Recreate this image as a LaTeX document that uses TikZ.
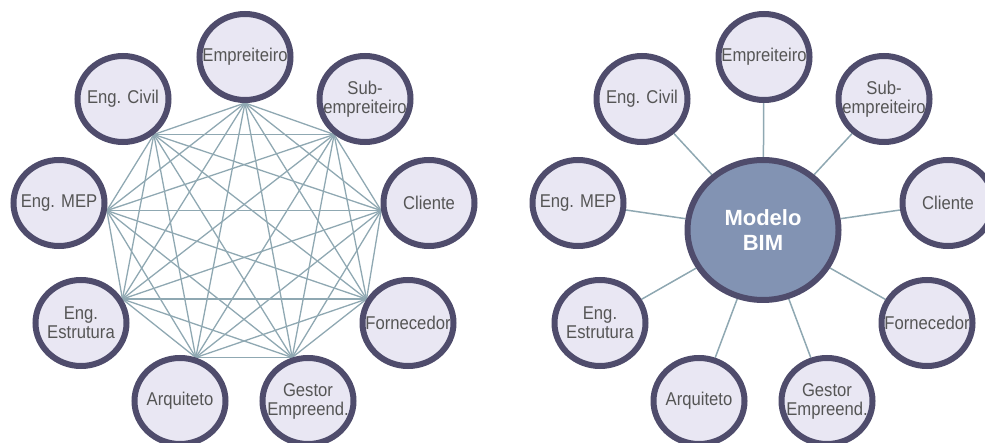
\documentclass[tikz,border=0pt]{standalone}
\usepackage{fontspec}
\setmainfont{Liberation Sans}
\newfontfamily\lblfont[FakeStretch=0.9]{Liberation Sans}
\usetikzlibrary{shapes.geometric,backgrounds}
\definecolor{bubfill}{HTML}{E9E7F3}
\definecolor{bubedge}{HTML}{4F4C6C}
\definecolor{txtgray}{HTML}{555555}
\definecolor{linkcol}{HTML}{8FA8B2}
\definecolor{bimfill}{HTML}{8293B3}
\begin{document}
\begin{tikzpicture}[x=1pt,y=-1pt,
  bub/.style={ellipse,draw=bubedge,fill=bubfill,line width=6pt,minimum width=91pt,minimum height=86pt,inner sep=0pt},
  lbl/.style={font=\lblfont\fontsize{18.5}{19}\selectfont,text=txtgray,align=center,inner sep=0pt},
  link/.style={draw=linkcol,line width=1.3pt},
  bimbub/.style={ellipse,draw=bubedge,fill=bimfill,line width=6pt,minimum width=151pt,minimum height=140pt,inner sep=0pt},
  bimlbl/.style={font=\bfseries\fontsize{22}{25}\selectfont,text=white,align=center,inner sep=0pt}]
\useasboundingbox (0,0) rectangle (985,443);

% ---------- left group ----------
\node[bub] (L1) at (245,57)  {};
\node[bub] (L2) at (365,99)  {};
\node[bub] (L3) at (429,203) {};
\node[bub] (L4) at (408,323) {};
\node[bub] (L5) at (308,401) {};
\node[bub] (L6) at (180,401) {};
\node[bub] (L7) at (81,323)  {};
\node[bub] (L8) at (59,203)  {};
\node[bub] (L9) at (123,99)  {};

\node[lbl] (L1t) at (L1) {Empreiteiro};
\node[lbl] (L2t) at (L2) {Sub-\\empreiteiro};
\node[lbl] (L3t) at (L3) {Cliente};
\node[lbl] (L4t) at (L4) {Fornecedor};
\node[lbl] (L5t) at (L5) {Gestor\\Empreend.};
\node[lbl] (L6t) at (L6) {Arquiteto};
\node[lbl] (L7t) at (L7) {Eng.\\Estrutura};
\node[lbl] (L8t) at (L8) {Eng. MEP};
\node[lbl] (L9t) at (L9) {Eng. Civil};

\coordinate (P1) at (L1.-90);
\coordinate (P2) at (L2.-131);
\coordinate (P3) at (L3.-171);
\coordinate (P4) at (L4.150);
\coordinate (P5) at (L5.110);
\coordinate (P6) at (L6.70);
\coordinate (P7) at (L7.30);
\coordinate (P8) at (L8.-9);
\coordinate (P9) at (L9.-49);

\begin{scope}[on background layer]
\foreach \i in {1,...,8}{
  \pgfmathtruncatemacro\ii{\i+1}
  \foreach \j in {\ii,...,9}{
    \draw[link] (P\i) -- (P\j);
  }
}
\end{scope}

% ---------- right group ----------
\node[bimbub] (bim) at (763,230) {};
\node[bimlbl] (bimt) at (bim) {Modelo\\BIM};

\node[bub] (R1) at (764,57)  {};
\node[bub] (R2) at (884,99)  {};
\node[bub] (R3) at (948,203) {};
\node[bub] (R4) at (927,323) {};
\node[bub] (R5) at (827,401) {};
\node[bub] (R6) at (699,401) {};
\node[bub] (R7) at (600,323) {};
\node[bub] (R8) at (578,203) {};
\node[bub] (R9) at (642,99)  {};

\node[lbl] (R1t) at (R1) {Empreiteiro};
\node[lbl] (R2t) at (R2) {Sub-\\empreiteiro};
\node[lbl] (R3t) at (R3) {Cliente};
\node[lbl] (R4t) at (R4) {Fornecedor};
\node[lbl] (R5t) at (R5) {Gestor\\Empreend.};
\node[lbl] (R6t) at (R6) {Arquiteto};
\node[lbl] (R7t) at (R7) {Eng.\\Estrutura};
\node[lbl] (R8t) at (R8) {Eng. MEP};
\node[lbl] (R9t) at (R9) {Eng. Civil};

\begin{scope}[on background layer]
\foreach \i in {1,...,9}{
  \draw[link,line width=1.5pt] (bim) -- (R\i);
}
\end{scope}
\end{tikzpicture}
\end{document}
